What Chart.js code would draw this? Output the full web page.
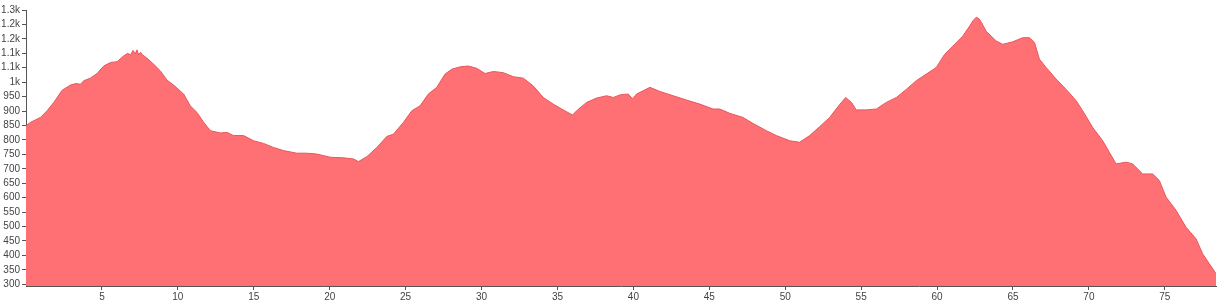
<!DOCTYPE html>
<html>
<head>
<meta charset="utf-8">
<style>
  html, body { margin: 0; padding: 0; background: #ffffff; }
  #wrap { width: 1221px; height: 305px; }
</style>
<script src="https://cdn.jsdelivr.net/npm/chart.js@4.4.1/dist/chart.umd.min.js"></script>
</head>
<body>
<div id="wrap"><canvas id="c" width="1221" height="305"></canvas></div>
<script>
// Distance along route (km)
const distanceKm = [
  0.00, 0.30, 0.95, 1.39, 1.83, 2.38, 2.93, 3.26, 3.59, 3.80, 4.24, 4.68, 5.12, 5.56, 6.00, 6.43, 6.70, 6.88, 7.05, 7.20, 7.31, 7.42, 7.55, 7.64,
  7.97, 8.41, 8.85, 9.29, 9.72, 10.38, 10.82, 11.26, 11.70, 12.14, 12.80, 13.24, 13.67, 14.33, 14.99, 15.64, 16.30, 16.96, 17.84, 18.50,
  19.16, 20.03, 20.91, 21.57, 21.89, 22.45, 23.11, 23.76, 24.20, 24.86, 25.41, 25.95, 26.50, 27.05, 27.60, 28.04, 28.59, 29.13, 29.68, 30.23,
  30.78, 31.43, 32.09, 32.75, 33.41, 34.07, 34.72, 35.38, 36.00, 36.26, 36.92, 37.58, 38.24, 38.68, 39.11, 39.66, 39.95, 40.21, 40.64, 41.09,
  41.74, 42.62, 43.50, 44.38, 45.25, 45.69, 46.35, 47.22, 47.88, 48.76, 49.42, 50.30, 50.95, 51.61, 52.27, 52.93, 53.47, 53.98, 54.36, 54.68,
  55.34, 56.00, 56.66, 57.32, 57.97, 58.63, 59.29, 59.95, 60.49, 61.04, 61.70, 62.14, 62.38, 62.58, 62.78, 62.91, 63.24, 63.89, 64.33, 64.99, 65.64, 66.09,
  66.42, 66.74, 67.18, 67.84, 68.50, 69.16, 69.59, 70.25, 70.91, 71.35, 71.79, 72.45, 72.88, 73.54, 74.20, 74.64, 75.08, 75.74, 76.39, 77.05,
  77.49, 77.93, 78.37
];
// Elevation (m)
const elevationM = [
  849, 861, 878, 901, 930, 972, 990, 995, 993, 1005, 1014, 1030, 1056, 1068, 1071, 1091, 1100, 1094, 1110, 1098, 1112, 1094, 1104, 1096,
  1083, 1062, 1039, 1007, 990, 959, 918, 895, 861, 832, 824, 826, 815, 815, 797, 788, 774, 763, 754, 754,
  751, 740, 738, 734, 725, 742, 774, 812, 820, 861, 901, 918, 959, 982, 1028, 1045, 1053, 1056, 1048, 1030,
  1037, 1033, 1019, 1014, 987, 947, 924, 904, 886, 901, 930, 945, 953, 947, 956, 959, 942, 959, 970, 982,
  968, 953, 938, 924, 907, 907, 892, 878, 857, 832, 815, 797, 792, 815, 846, 878, 915, 947, 930, 904,
  904, 907, 930, 947, 975, 1005, 1028, 1051, 1096, 1125, 1160, 1194, 1214, 1225, 1219, 1208, 1176, 1143, 1131, 1140, 1154, 1154,
  1137, 1080, 1051, 1011, 975, 936, 901, 843, 797, 757, 717, 723, 717, 682, 682, 659, 602, 556, 498, 458,
  406, 371, 337
];
// Axis ticks
const xTickValues = [5, 10, 15, 20, 25, 30, 35, 40, 45, 50, 55, 60, 65, 70, 75];
const yTickValues = [300, 350, 400, 450, 500, 550, 600, 650, 700, 750, 800, 850, 900, 950, 1000, 1050, 1100, 1150, 1200, 1250];
const yTickLabels = ['300', '350', '400', '450', '500', '550', '600', '650', '700', '750', '800', '850', '900', '950', '1k', '1.1k', '1.1k', '1.2k', '1.2k', '1.3k'];

const points = distanceKm.map((d, i) => ({ x: d, y: elevationM[i] }));
const axisColor = '#555555';
const tickFont = { family: "'Liberation Sans', Arial, sans-serif", size: 10 };

new Chart(document.getElementById('c'), {
  type: 'line',
  data: {
    datasets: [{
      data: points,
      fill: 'start',
      backgroundColor: 'rgb(255,112,116)',
      borderColor: 'rgb(228,88,92)',
      borderWidth: 1,
      pointRadius: 0,
      tension: 0
    }]
  },
  options: {
    responsive: false,
    animation: false,
    events: [],
    layout: { padding: { top: 10, right: 5, left: 0, bottom: 0 } },
    plugins: { legend: { display: false }, tooltip: { enabled: false } },
    scales: {
      x: {
        type: 'linear',
        min: 0,
        max: 78.37,
        afterBuildTicks: (s) => { s.ticks = xTickValues.map(v => ({ value: v })); },
        afterFit: (s) => { s.height = 19; },
        grid: { display: true, drawOnChartArea: false, drawTicks: true, tickLength: 4, color: axisColor },
        border: { display: true, color: axisColor, width: 1 },
        ticks: { color: '#444444', font: tickFont, padding: 1, maxRotation: 0, autoSkip: false }
      },
      y: {
        type: 'linear',
        min: 294,
        max: 1250,
        afterBuildTicks: (s) => { s.ticks = yTickValues.map(v => ({ value: v })); },
        afterFit: (s) => { s.width = 26; },
        grid: { display: true, drawOnChartArea: false, drawTicks: true, tickLength: 4, color: axisColor },
        border: { display: true, color: axisColor, width: 1 },
        ticks: {
          color: '#444444', font: tickFont, padding: 2, autoSkip: false,
          callback: (v) => { const i = yTickValues.indexOf(v); return i >= 0 ? yTickLabels[i] : ''; }
        }
      }
    }
  }
});
</script>
</body>
</html>
